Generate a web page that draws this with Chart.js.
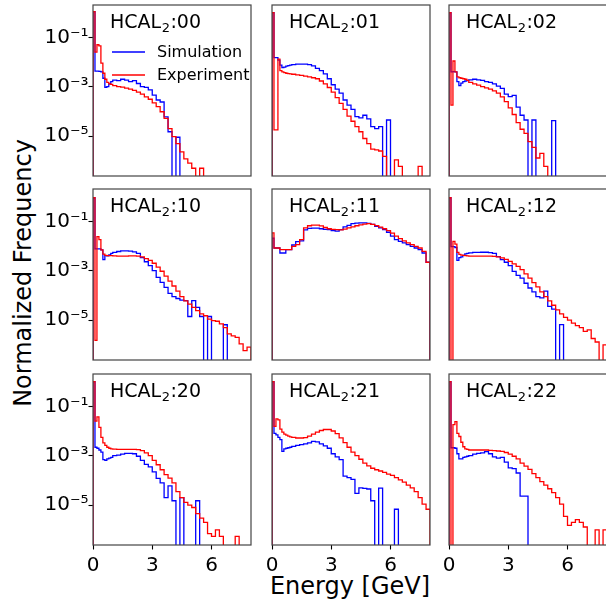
<!DOCTYPE html>
<html>
<head>
<meta charset="utf-8">
<script src="https://cdn.jsdelivr.net/npm/chart.js@4.4.0/dist/chart.umd.min.js"></script>
<style>
  html, body { margin: 0; padding: 0; background: #fff; overflow: hidden; }
  body { width: 606px; height: 605px; position: relative; font-family: "DejaVu Sans", sans-serif; }
  canvas { position: absolute; }
  .axlabel { position: absolute; font-size: 24px; line-height: 28px; height: 28px; width: 300px; text-align: center; white-space: nowrap; color: #000; }
</style>
</head>
<body>
<div class="axlabel" style="left:200px; top:572px;">Energy [GeV]</div>
<div class="axlabel" style="left:-127px; top:259px; transform: rotate(-90deg);">Normalized Frequency</div>
<script>
// bin edges in GeV (0.1 wide below 1 GeV, 0.2 above)
const EDGES = [0, 0.1, 0.2, 0.3, 0.4, 0.5, 0.6, 0.7, 0.8, 0.9,
  1.0, 1.2, 1.4, 1.6, 1.8, 2.0, 2.2, 2.4, 2.6, 2.8,
  3.0, 3.2, 3.4, 3.6, 3.8, 4.0, 4.2, 4.4, 4.6, 4.8,
  5.0, 5.2, 5.4, 5.6, 5.8, 6.0, 6.2, 6.4, 6.6, 6.8,
  7.0, 7.2, 7.4, 7.6, 7.8, 8.0];

const XTICKS = [0, 3, 6];
const YTICKS = [1e-5, 1e-3, 1e-1];
const YLABELS = ['10\u207B\u2075', '10\u207B\u00B3', '10\u207B\u00B9'];
const Y_MIN = 2.43e-7, Y_MAX = 2.03;

// normalized frequency per bin (one value per bin, trailing empty bins left out)
const sim00 = [1.1, 4.3e-3, 4.3e-3, 4.2e-3, 4.0e-3, 2.2e-3, 9.5e-4, 1.0e-3, 1.3e-3, 1.6e-3,
  1.85e-3, 1.75e-3, 2.0e-3, 1.85e-3, 1.6e-3,
  1.75e-3, 1.35e-3, 1.0e-3, 9.4e-4, 7.4e-4,
  4.6e-4, 2.9e-4, 2.4e-4, 6e-5, 1.5e-5,
  0, 9e-6];
const exp00 = [1.1, 0.025, 0.05, 0.045, 0.009, 3.5e-3, 2.0e-3, 1.5e-3, 1.3e-3, 1.25e-3,
  1.1e-3, 1.0e-3, 9.6e-4, 8.8e-4, 8.0e-4,
  7.1e-4, 6.0e-4, 5.0e-4, 3.9e-4, 3.1e-4,
  2.2e-4, 1.55e-4, 9.7e-5, 5.2e-5, 2.0e-5,
  9.5e-6, 5e-6, 2.3e-6, 1.2e-6, 8e-7,
  5e-7, 0, 5e-7];

const sim01 = [1.0, 0.015, 0.015, 0.012, 7.5e-3, 6.0e-3, 6.2e-3, 6.8e-3, 7.2e-3, 7.5e-3,
  7.8e-3, 8.2e-3, 8.2e-3, 8.2e-3, 7.8e-3,
  7.0e-3, 5.5e-3, 4.5e-3, 3.3e-3, 2.1e-3,
  1.2e-3, 8.0e-4, 5.5e-4, 2.9e-4, 1.8e-4,
  1.2e-4, 6.1e-5, 5.5e-5, 7e-5, 5e-5,
  2.4e-5, 2e-5, 2.4e-5, 0, 4.5e-5];
const exp01 = [1.0, 1.8e-5, 1.8e-5, 0.013, 4.5e-3, 4.0e-3, 3.7e-3, 3.5e-3, 3.4e-3, 3.3e-3,
  3.2e-3, 3.0e-3, 2.9e-3, 2.7e-3, 2.5e-3,
  2.3e-3, 2.1e-3, 1.7e-3, 1.3e-3, 9.3e-4,
  6.0e-4, 3.6e-4, 2.1e-4, 1.2e-4, 6.5e-5,
  4.0e-5, 2.4e-5, 1.5e-5, 8e-6, 5e-6,
  3e-6, 2.8e-6, 2.5e-6, 1.5e-6, 0,
  0, 1.1e-6, 6e-7, 0, 0,
  0, 0, 6e-7];

const sim02 = [1.0, 4.0e-3, 4.1e-3, 4.0e-3, 1.6e-3, 1.1e-3, 1.4e-3, 1.6e-3, 1.7e-3, 1.8e-3,
  1.9e-3, 2.0e-3, 1.9e-3, 1.8e-3, 1.6e-3,
  1.5e-3, 1.3e-3, 1.05e-3, 8.5e-4, 5.0e-4,
  4.0e-4, 4.5e-4, 1.5e-4, 7e-5, 4.5e-5,
  0, 4.5e-5, 0, 0, 0,
  0, 4.2e-5];
const exp02 = [1.0, 1.8e-4, 0.011, 4e-3, 2.5e-3, 2.3e-3, 2.2e-3, 2.1e-3, 2.0e-3, 1.8e-3,
  1.5e-3, 1.3e-3, 1.15e-3, 1.0e-3, 9.0e-4,
  8.0e-4, 6.8e-4, 5.5e-4, 3.9e-4, 2.5e-4,
  1.4e-4, 7.5e-5, 3.5e-5, 1.9e-5, 1.3e-5,
  6e-6, 3.5e-6, 1.3e-6, 2e-6, 6e-7];

const sim10 = [0.9, 7.6e-3, 7.6e-3, 7.6e-3, 7.0e-3, 2.8e-3, 4.1e-3, 4.0e-3, 4.4e-3, 5.0e-3,
  5.5e-3, 6.0e-3, 6.3e-3, 6.3e-3, 6.2e-3,
  5.8e-3, 5.0e-3, 3.4e-3, 2.3e-3, 1.6e-3,
  1.0e-3, 5.4e-4, 3.4e-4, 2.1e-4, 1.2e-4,
  9e-5, 7.5e-5, 6.5e-5, 6.1e-5, 1.4e-5,
  6.1e-5, 3.3e-5, 1.4e-5, 0, 1.4e-5,
  0, 0, 0, 6.5e-6];
const exp10 = [0.9, 1.5e-6, 0.024, 0.018, 7e-3, 4.7e-3, 4.2e-3, 4.1e-3, 4.1e-3, 4.1e-3,
  4.0e-3, 3.9e-3, 3.9e-3, 3.9e-3, 4.0e-3,
  4.0e-3, 3.9e-3, 3.6e-3, 3.1e-3, 2.6e-3,
  2.0e-3, 1.4e-3, 9.5e-4, 6e-4, 3.8e-4,
  2.4e-4, 1.5e-4, 9e-5, 6e-5, 4.4e-5,
  3.3e-5, 2.4e-5, 1.8e-5, 1.5e-5, 1.1e-5,
  9.6e-6, 9.0e-6, 7e-6, 5e-6, 2.8e-6,
  2.3e-6, 2.0e-6, 1.1e-6, 5.8e-7, 8e-7];

const sim11 = [0.021, 8.3e-3, 8.3e-3, 8.3e-3, 5.2e-3, 5.2e-3, 5.2e-3, 7.1e-3, 7.1e-3, 7.1e-3,
  0.011, 0.015, 0.016, 0.045, 0.052,
  0.053, 0.053, 0.05, 0.047, 0.046,
  0.042, 0.040, 0.046, 0.06, 0.068,
  0.08, 0.085, 0.087, 0.087, 0.082,
  0.075, 0.063, 0.054, 0.046, 0.036,
  0.025, 0.018, 0.0155, 0.0133, 0.0113,
  0.0097, 0.0083, 0.0071, 0.0052, 0.0022];
const exp11 = [0.034, 8.3e-3, 8.3e-3, 8.3e-3, 7.1e-3, 7.1e-3, 7.1e-3, 7.1e-3, 7.1e-3, 7.1e-3,
  9.7e-3, 0.0113, 0.018, 0.054, 0.066,
  0.07, 0.07, 0.065, 0.056, 0.05,
  0.047, 0.046, 0.045, 0.048, 0.054,
  0.06, 0.066, 0.072, 0.077, 0.08,
  0.075, 0.067, 0.058, 0.05, 0.042,
  0.033, 0.025, 0.02, 0.016, 0.0133,
  0.0113, 0.0097, 0.0083, 0.0061, 0.0022];

const sim12 = [0.9, 9.5e-3, 9.5e-3, 8.7e-3, 2.6e-3, 3.4e-3, 3.6e-3, 4.2e-3, 4.8e-3, 5.0e-3,
  5.3e-3, 5.5e-3, 5.5e-3, 5.6e-3, 5.6e-3,
  5.4e-3, 5.0e-3, 3.7e-3, 2.8e-3, 2.2e-3,
  1.6e-3, 9.4e-4, 6.5e-4, 5.0e-4, 3.1e-4,
  2.0e-4, 1.4e-4, 9e-5, 8e-5, 1.5e-4,
  3.6e-5, 2.8e-5, 0, 6.6e-6];
const exp12 = [0.9, 0, 0.0155, 0.012, 5.5e-3, 4.6e-3, 4.3e-3, 4.2e-3, 4.1e-3, 4.0e-3,
  3.9e-3, 3.9e-3, 3.9e-3, 3.9e-3, 3.9e-3,
  3.9e-3, 3.8e-3, 3.6e-3, 3.3e-3, 2.9e-3,
  2.4e-3, 1.9e-3, 1.5e-3, 1.1e-3, 7.5e-4,
  5.0e-4, 3.3e-4, 2.2e-4, 1.4e-4, 9e-5,
  6e-5, 4e-5, 2.6e-5, 1.8e-5, 1.3e-5,
  1.0e-5, 7.5e-6, 6e-6, 5e-6, 3.5e-6,
  4e-6, 1.8e-6, 1.3e-6, 0, 1e-6];

const sim20 = [1.0, 2.2e-3, 2.0e-3, 1.7e-3, 1.4e-3, 7e-4, 6.5e-4, 7.5e-4, 8e-4, 8.5e-4,
  1.0e-3, 1.05e-3, 1.15e-3, 1.25e-3, 1.25e-3,
  1.2e-3, 9.5e-4, 6.5e-4, 4.5e-4, 3.5e-4,
  2.2e-4, 1.2e-4, 8e-5, 2e-5, 6e-5,
  1.5e-5, 0, 2.0e-5, 0, 0,
  0, 1.5e-5];
const exp20 = [1.0, 0.025, 0.037, 0.014, 5.5e-3, 3.3e-3, 2.6e-3, 2.2e-3, 2.0e-3, 1.9e-3,
  1.85e-3, 1.8e-3, 1.8e-3, 1.8e-3, 1.8e-3,
  1.8e-3, 1.75e-3, 1.6e-3, 1.3e-3, 1.0e-3,
  6.5e-4, 4.3e-4, 2.7e-4, 1.7e-4, 1.24e-4,
  8e-5, 3.5e-5, 2.0e-5, 1.3e-5, 1.0e-5,
  8e-6, 4.5e-6, 3.0e-6, 2.0e-6, 7e-7,
  5.4e-7, 1.0e-6, 5.4e-7, 0, 0,
  0, 5.4e-7];

const sim21 = [1.0, 8e-3, 7e-3, 5.5e-3, 4.5e-3, 1.5e-3, 1.9e-3, 2.0e-3, 2.1e-3, 2.2e-3,
  2.4e-3, 2.6e-3, 2.8e-3, 3.0e-3, 3.3e-3,
  3.8e-3, 3.6e-3, 3.0e-3, 2.5e-3, 2.0e-3,
  1.2e-3, 8.9e-4, 6.9e-4, 1.5e-4, 1.3e-4,
  1.1e-4, 3e-5, 5e-5, 4.8e-5, 4.5e-5,
  1.5e-5, 0, 4.9e-5, 0, 0,
  0, 6.8e-6];
const exp21 = [1.0, 0.0155, 0.031, 0.028, 0.012, 9e-3, 7.5e-3, 6.8e-3, 6.2e-3, 5.8e-3,
  5.5e-3, 5.2e-3, 5.2e-3, 5.4e-3, 6.2e-3,
  7.5e-3, 9.0e-3, 0.0105, 0.0115, 0.0115,
  0.010, 7.8e-3, 5.3e-3, 3.4e-3, 2.2e-3,
  1.4e-3, 1.0e-3, 7.2e-4, 5.0e-4, 3.9e-4,
  3.1e-4, 2.7e-4, 2.4e-4, 2.1e-4, 1.8e-4,
  1.6e-4, 1.3e-4, 1.05e-4, 8.5e-5, 6.5e-5,
  5e-5, 3.5e-5, 2.0e-5, 1.1e-5, 6.8e-6];

const sim22 = [1.0, 2.1e-3, 2.1e-3, 2.0e-3, 1.2e-3, 7.5e-4, 7.5e-4, 8.5e-4, 9e-4, 9.5e-4,
  1.0e-3, 1.15e-3, 1.25e-3, 1.3e-3, 1.45e-3,
  1.2e-3, 9e-4, 8e-4, 8.5e-4, 5.5e-4,
  3.2e-4, 3.0e-4, 2.0e-4, 2.3e-5, 2.3e-5];
const exp22 = [1.0, 0, 0.018, 0.024, 8e-3, 6e-3, 3.5e-3, 2.3e-3, 1.9e-3, 1.8e-3,
  1.7e-3, 1.7e-3, 1.7e-3, 1.7e-3, 1.7e-3,
  1.65e-3, 1.6e-3, 1.55e-3, 1.5e-3, 1.35e-3,
  1.15e-3, 9.5e-4, 7.5e-4, 5.0e-4, 3.8e-4,
  2.8e-4, 1.9e-4, 1.3e-4, 9e-5, 6.5e-5,
  4.6e-5, 3.2e-5, 2.0e-5, 1.1e-5, 3.5e-6,
  1.5e-6, 2.0e-6, 2.6e-6, 2.0e-6, 1.3e-6,
  0, 0, 1.0e-6, 0, 1.0e-6];

const PANELS = [
  ['00', sim00, exp00], ['01', sim01, exp01], ['02', sim02, exp02],
  ['10', sim10, exp10], ['11', sim11, exp11], ['12', sim12, exp12],
  ['20', sim20, exp20], ['21', sim21, exp21], ['22', sim22, exp22]
];

const BLUE = '#0000ff', RED = '#ff0000';
const FONT = '"DejaVu Sans"';

// page layout of the plot boxes
const COL_X = [93, 272, 449], ROW_Y = [5, 189, 374];
const PW = 158, PH = 171;
const L = 60, T = 22, R = 6, B = 40;

// empty bins sit far below the axis so the outline drops to the bottom edge
const FLOOR = Y_MIN / 100;

function steps(vals) {
  const pts = [{ x: EDGES[0], y: FLOOR }];
  vals.forEach((v, i) => pts.push({ x: EDGES[i], y: v > 0 ? v : FLOOR }));
  pts.push({ x: EDGES[vals.length], y: FLOOR });
  return pts;
}

const deco = {
  id: 'deco',
  afterDraw(chart, args, opts) {
    const ctx = chart.ctx, a = chart.chartArea;
    ctx.save();
    ctx.strokeStyle = '#444';
    ctx.lineWidth = 1.2;
    ctx.strokeRect(a.left, a.top, a.right - a.left, a.bottom - a.top);

    // panel title HCAL_2:xx
    ctx.fillStyle = '#000';
    ctx.textBaseline = 'alphabetic';
    let x = a.left + 17;
    const y = a.top + 23;
    ctx.font = '19px ' + FONT;
    ctx.fillText('HCAL', x, y);
    x += ctx.measureText('HCAL').width + 0.5;
    ctx.font = '13px ' + FONT;
    ctx.fillText('2', x, y + 4);
    x += ctx.measureText('2').width + 0.5;
    ctx.font = '19px ' + FONT;
    ctx.fillText(':' + opts.name, x, y);

    if (opts.legend) {
      ctx.font = '16px ' + FONT;
      ctx.textBaseline = 'middle';
      ctx.lineWidth = 1.3;
      const items = [chart.data.datasets[1], chart.data.datasets[0]];
      items.forEach((ds, i) => {
        const ly = a.top + 47 + i * 23;
        ctx.strokeStyle = ds.borderColor;
        ctx.beginPath();
        ctx.moveTo(a.left + 19, ly);
        ctx.lineTo(a.left + 52, ly);
        ctx.stroke();
        ctx.fillText(ds.label, a.left + 64, ly + 1);
      });
    }
    ctx.restore();
  }
};

PANELS.forEach(([name, sim, exp], i) => {
  const row = Math.floor(i / 3), col = i % 3;
  const cv = document.createElement('canvas');
  cv.width = L + PW + R;
  cv.height = T + PH + B;
  cv.style.left = (COL_X[col] - L) + 'px';
  cv.style.top = (ROW_Y[row] - T) + 'px';
  document.body.appendChild(cv);

  new Chart(cv, {
    type: 'line',
    data: {
      datasets: [
        { label: 'Experiment', data: steps(exp), borderColor: RED, order: 0 },
        { label: 'Simulation', data: steps(sim), borderColor: BLUE, order: 1 }
      ]
    },
    options: {
      responsive: false,
      animation: false,
      devicePixelRatio: 1,
      layout: { padding: { top: T, right: R, left: 0, bottom: 0 } },
      elements: {
        line: { stepped: true, borderWidth: 1.3, fill: false, tension: 0 },
        point: { radius: 0, hoverRadius: 0 }
      },
      plugins: {
        legend: { display: false },
        tooltip: { enabled: false },
        deco: { name: name, legend: i === 0 }
      },
      scales: {
        x: {
          type: 'linear', min: 0, max: 8,
          afterBuildTicks: s => { s.ticks = XTICKS.map(v => ({ value: v })); },
          afterFit: s => { s.height = B; },
          border: { display: false },
          grid: { display: row === 2, drawOnChartArea: false, tickLength: 4.5, tickColor: '#000', tickWidth: 1.1 },
          ticks: {
            display: row === 2, color: '#000', padding: 4, maxRotation: 0, autoSkip: false,
            font: { size: 20, family: FONT },
            callback: v => String(v)
          }
        },
        y: {
          type: 'logarithmic', min: Y_MIN, max: Y_MAX,
          afterBuildTicks: s => { s.ticks = YTICKS.map(v => ({ value: v })); },
          afterFit: s => { s.width = L; },
          border: { display: false },
          grid: { display: col === 0, drawOnChartArea: false, tickLength: 4.5, tickColor: '#000', tickWidth: 1.1 },
          ticks: {
            display: col === 0, color: '#000', padding: 0, autoSkip: false,
            font: { size: 20, family: FONT },
            callback: v => YLABELS[YTICKS.indexOf(v)]
          }
        }
      }
    },
    plugins: [deco]
  });
});
</script>
</body>
</html>
